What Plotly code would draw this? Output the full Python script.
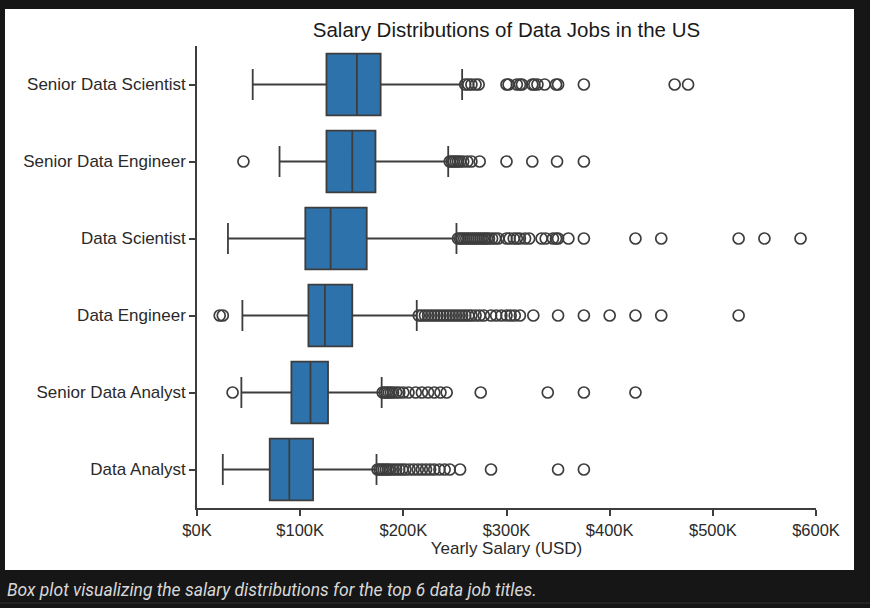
import plotly.graph_objects as go

# ---------- data (thousands of USD) ----------
job_titles = ["Senior Data Scientist", "Senior Data Engineer", "Data Scientist",
              "Data Engineer", "Senior Data Analyst", "Data Analyst"]

lower_whisker = [54, 80, 30, 44, 43, 25]
q1_vals = [125.5, 125.5, 105, 108, 91.5, 70.5]
median_vals = [155, 150.5, 129.5, 124, 110, 89.5]
q3_vals = [178, 173, 164.5, 150.5, 127, 112.5]
upper_whisker = [257, 243.5, 251.5, 213, 179, 174]

out_senior_ds = [260, 263, 266, 270, 273, 300, 302, 310, 313, 315, 325, 327,
                 330, 337, 348, 350, 375, 463, 476]
out_senior_de = [45, 245, 247, 249, 251, 253, 255, 258, 262, 266, 274, 300,
                 325, 349, 375]
out_ds = [253, 255, 257, 259, 261, 263, 265, 267, 269, 271, 273, 275, 277, 279,
          281, 283, 286, 289, 292, 300, 303, 307, 310, 313, 318, 322, 334, 338,
          345, 348, 350, 360, 375, 425, 450, 525, 550, 585]
out_de = [22, 25, 215, 218, 221, 224, 227, 230, 233, 236, 239, 242, 245, 248,
          251, 254, 257, 260, 263, 266, 270, 274, 278, 285, 290, 295, 300, 304,
          308, 313, 326, 350, 375, 400, 425, 450, 525]
out_senior_da = [34.5, 180, 182, 184, 186, 188, 190, 193, 196, 200, 205, 212,
                 218, 224, 230, 236, 242, 275, 340, 375, 425]
out_da = [175, 177, 179, 181, 183, 185, 187, 190, 193, 196, 199, 202, 206, 210,
          214, 218, 222, 226, 230, 235, 240, 245, 255, 285, 350, 375]

tick_vals = [0, 100, 200, 300, 400, 500, 600]
tick_labels = ["$0K", "$100K", "$200K", "$300K", "$400K", "$500K", "$600K"]

caption = "Box plot visualizing the salary distributions for the top 6 data job titles."

# ---------- figure ----------
edge = "#3d3d3d"
text_col = "#2a2a2a"
k = 1000

# plot area in pixels: x 197..816, y 46..508
def px_x(p):
    return (p - 197) / 619

def px_y(p):
    return (508 - p) / 462

fig = go.Figure()
fig.add_trace(go.Box(
    y=job_titles,
    q1=[v * k for v in q1_vals],
    median=[v * k for v in median_vals],
    q3=[v * k for v in q3_vals],
    lowerfence=[v * k for v in lower_whisker],
    upperfence=[v * k for v in upper_whisker],
    orientation="h",
    boxpoints=False,
    width=0.8,
    whiskerwidth=0.5,
    fillcolor="#2e72ab",
    line=dict(color=edge, width=1.8),
    showlegend=False,
    hoverinfo="skip",
))

outliers = [out_senior_ds, out_senior_de, out_ds, out_de, out_senior_da, out_da]
ox, oy = [], []
for title, vals in zip(job_titles, outliers):
    ox += [v * k for v in vals]
    oy += [title] * len(vals)

fig.add_trace(go.Scatter(
    x=ox, y=oy, mode="markers",
    marker=dict(symbol="circle-open", size=11, color=edge, line=dict(width=1.7)),
    showlegend=False,
))

fig.update_layout(
    width=870, height=608,
    margin=dict(l=197, r=54, t=46, b=100),
    paper_bgcolor="#161616",
    plot_bgcolor="white",
    font=dict(family="Liberation Sans, Arial, sans-serif", color=text_col, size=17),
    title=dict(text="Salary Distributions of Data Jobs in the US",
               x=(197 + 816) / 2 / 870, xanchor="center",
               y=1 - 30 / 608, yanchor="middle",
               font=dict(size=20.5, color="#1a1a1a")),
    xaxis=dict(
        range=[0, 600 * k],
        tickvals=[v * k for v in tick_vals], ticktext=tick_labels,
        showgrid=False, zeroline=False,
        showline=True, linecolor=edge, linewidth=1.6,
        ticks="outside", ticklen=6, tickcolor=edge, tickwidth=1.6,
        tickfont=dict(size=16.5, color=text_col),
        title=dict(text="Yearly Salary (USD)", standoff=3,
                   font=dict(size=17, color=text_col)),
    ),
    yaxis=dict(
        type="category",
        categoryorder="array", categoryarray=job_titles[::-1],
        range=[-0.5, 5.5],
        showgrid=False, zeroline=False,
        showline=True, linecolor=edge, linewidth=1.6,
        ticks="outside", ticklen=6, tickcolor=edge, tickwidth=1.6,
        tickfont=dict(size=17, color=text_col),
    ),
    # white card behind the chart and the thin rule under the caption
    shapes=[
        dict(type="rect", xref="paper", yref="paper", layer="below",
             x0=px_x(5), x1=px_x(854), y0=px_y(570), y1=px_y(9),
             fillcolor="white", line=dict(width=0)),
        dict(type="line", xref="paper", yref="paper", layer="below",
             x0=px_x(0), x1=px_x(870), y0=px_y(603), y1=px_y(603),
             line=dict(color="#333333", width=1)),
    ],
    annotations=[dict(text="<i>" + caption + "</i>",
                      xref="paper", yref="paper",
                      x=px_x(5), xanchor="left",
                      y=px_y(590), yanchor="middle",
                      showarrow=False,
                      font=dict(family="Roboto, sans-serif", size=17.5, color="#d8d8d8"))],
)

fig.write_html("out.html",
               config={"displayModeBar": False},
               post_script="document.body.style.margin='0';"
                           "document.body.style.background='#161616';")
